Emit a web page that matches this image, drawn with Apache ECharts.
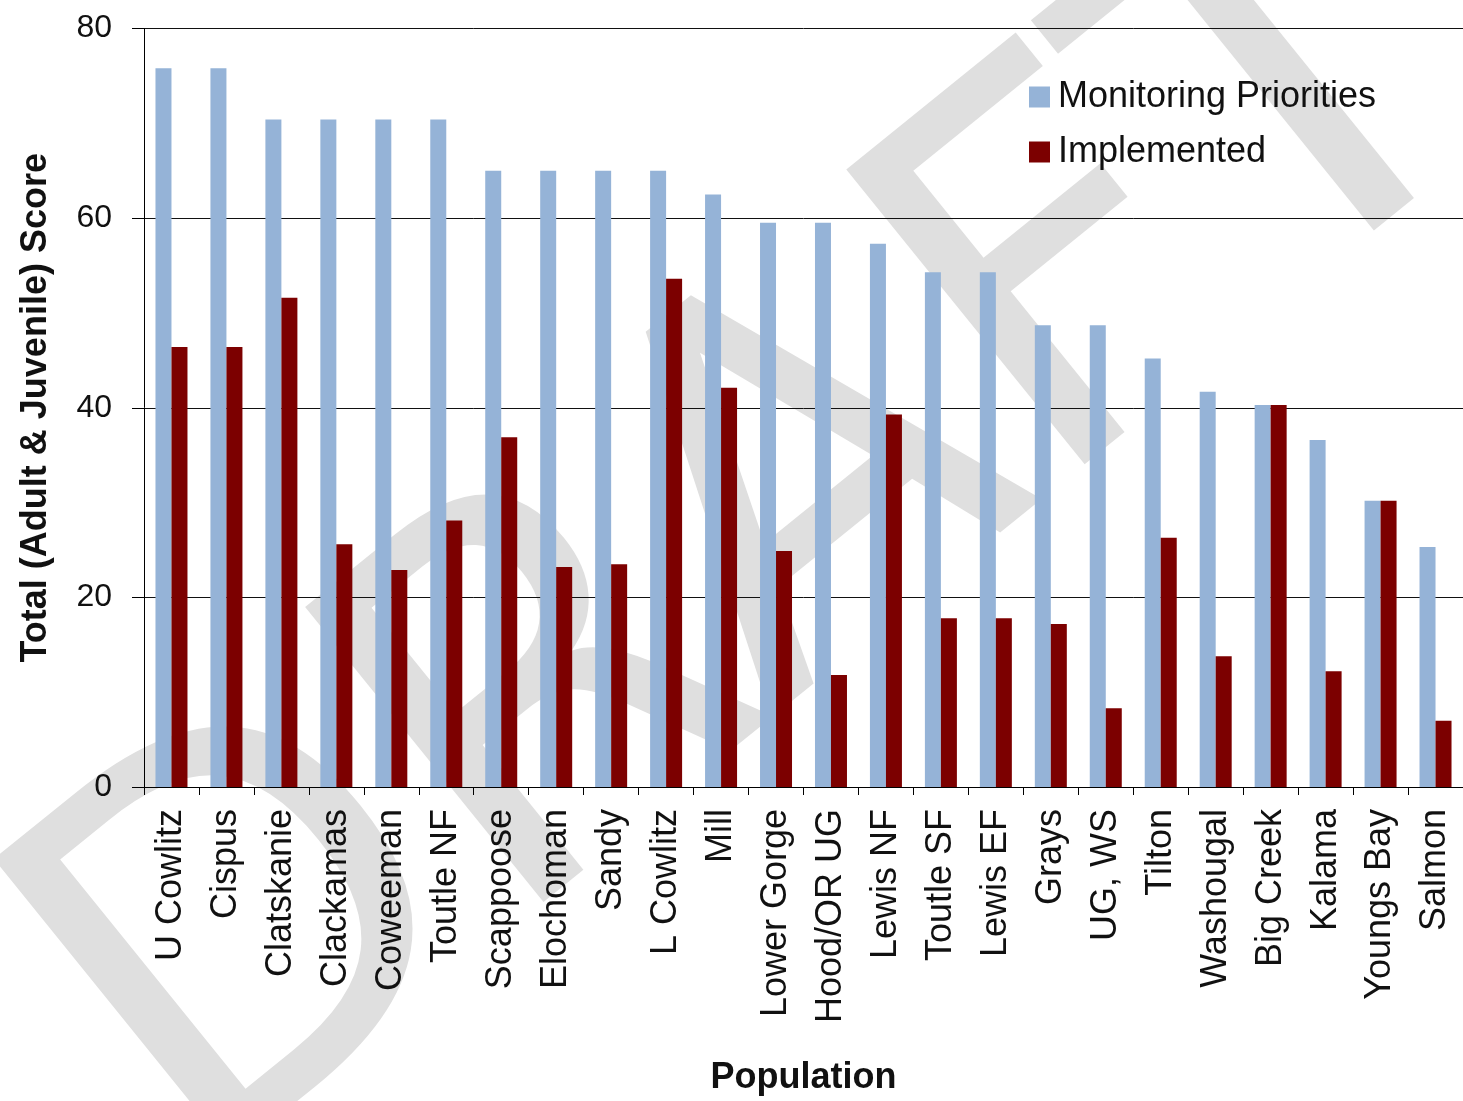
<!DOCTYPE html>
<html>
<head>
<meta charset="utf-8">
<title>Monitoring Priorities vs Implemented</title>
<script src="https://cdn.jsdelivr.net/npm/echarts@6/dist/echarts.min.js"></script>
<style>
  html, body { margin: 0; padding: 0; background: #fff; }
  #main { width: 1463px; height: 1101px; }
</style>
</head>
<body>
<div id="main"></div>
<script>
var populations = ['U Cowlitz', 'Cispus', 'Clatskanie', 'Clackamas', 'Coweeman', 'Toutle NF',
  'Scappoose', 'Elochoman', 'Sandy', 'L Cowlitz', 'Mill', 'Lower Gorge', 'Hood/OR UG',
  'Lewis NF', 'Toutle SF', 'Lewis EF', 'Grays', 'UG, WS', 'Tilton', 'Washougal',
  'Big Creek', 'Kalama', 'Youngs Bay', 'Salmon'];
var monitoringPriorities = [75.8, 75.8, 70.4, 70.4, 70.4, 70.4, 65.0, 65.0, 65.0, 65.0, 62.5, 59.5,
  59.5, 57.3, 54.3, 54.3, 48.7, 48.7, 45.2, 41.7, 40.3, 36.6, 30.2, 25.3];
var implemented = [46.4, 46.4, 51.6, 25.6, 22.9, 28.1, 36.9, 23.2, 23.5, 53.6, 42.1, 24.9,
  11.8, 39.3, 17.8, 17.8, 17.2, 8.3, 26.3, 13.8, 40.3, 12.2, 30.2, 7.0];
var yTicks = [0, 20, 40, 60, 80];

var font = 'Liberation Sans, Arial, sans-serif';
var chart = echarts.init(document.getElementById('main'));

var option = {
  animation: false,
  backgroundColor: '#fff',
  textStyle: { fontFamily: font },
  // the grey DRAFT watermark behind the plot
  graphic: [{
    type: 'text',
    z: -10,
    silent: true,
    x: 770,
    y: 545,
    rotation: 0.68,
    style: {
      text: 'DRAFT',
      fontFamily: 'DejaVu Sans',
      fontSize: 520,
      fill: '#dfdfdf',
      align: 'center',
      verticalAlign: 'middle'
    }
  }],
  legend: {
    orient: 'vertical',
    left: 1024,
    top: 74,
    itemWidth: 21,
    itemHeight: 21,
    itemGap: 19,
    icon: 'rect',
    textStyle: { fontSize: 36, color: '#111', fontFamily: font, lineHeight: 36, padding: [0, 0, 0, 3] },
    data: ['Monitoring Priorities', 'Implemented']
  },
  grid: { left: 144, right: 0, top: 28.5, bottom: 306.5, containLabel: false },
  xAxis: {
    type: 'category',
    data: populations,
    name: 'Population',
    nameLocation: 'middle',
    nameGap: 273,
    nameTextStyle: { fontSize: 36, fontWeight: 'bold', color: '#111', fontFamily: font },
    axisLine: { lineStyle: { color: '#000', width: 1 } },
    axisTick: { show: true, length: 8, lineStyle: { color: '#000' } },
    axisLabel: { rotate: 90, interval: 0, fontSize: 36, color: '#111', margin: 22, fontFamily: font }
  },
  yAxis: {
    type: 'value',
    min: 0,
    max: yTicks[yTicks.length - 1],
    interval: 20,
    name: 'Total (Adult & Juvenile) Score',
    nameLocation: 'middle',
    nameGap: 90,
    nameTextStyle: { fontSize: 36, fontWeight: 'bold', color: '#111', fontFamily: font },
    axisLine: { show: true, lineStyle: { color: '#000', width: 1 } },
    axisTick: { show: true, length: 12, lineStyle: { color: '#000' } },
    axisLabel: { fontSize: 32, color: '#111', margin: 32, fontFamily: font },
    splitLine: { show: true, lineStyle: { color: '#111', width: 1 } }
  },
  series: [{
    name: 'Monitoring Priorities',
    type: 'bar',
    barWidth: 16,
    barGap: '0%',
    itemStyle: { color: '#95B3D7' },
    data: monitoringPriorities
  }, {
    name: 'Implemented',
    type: 'bar',
    barWidth: 16,
    barGap: '0%',
    itemStyle: { color: '#7C0000' },
    data: implemented
  }]
};

chart.setOption(option);
</script>
</body>
</html>
